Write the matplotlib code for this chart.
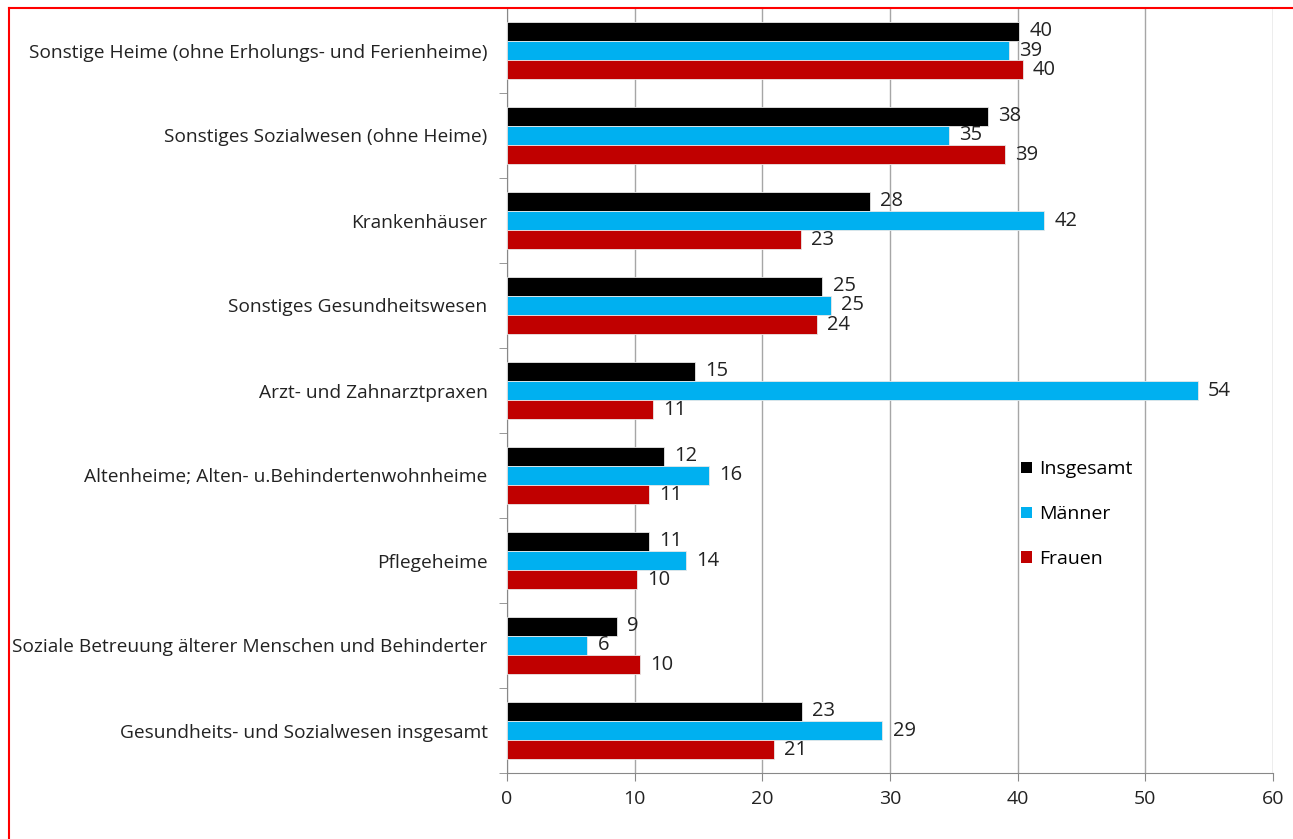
import numpy as np
import matplotlib
matplotlib.use("Agg")
import matplotlib.pyplot as plt
from matplotlib.lines import Line2D
from matplotlib.patches import Patch

# categories from top to bottom
categories = [
    "Sonstige Heime (ohne Erholungs- und Ferienheime)",
    "Sonstiges Sozialwesen (ohne Heime)",
    "Krankenhäuser",
    "Sonstiges Gesundheitswesen",
    "Arzt- und Zahnarztpraxen",
    "Altenheime; Alten- u.Behindertenwohnheime",
    "Pflegeheime",
    "Soziale Betreuung älterer Menschen und Behinderter",
    "Gesundheits- und Sozialwesen insgesamt",
]
insgesamt = [40.1, 37.7, 28.4, 24.7, 14.7, 12.3, 11.1, 8.6, 23.1]
maenner = [39.3, 34.6, 42.1, 25.4, 54.1, 15.8, 14.0, 6.3, 29.4]
frauen = [40.4, 39.0, 23.0, 24.3, 11.4, 11.1, 10.2, 10.4, 20.9]

series_names = ["Insgesamt", "Männer", "Frauen"]
colors = ["#000000", "#00B0F0", "#C00000"]

plt.rcParams['font.family'] = ['Open Sans', 'DejaVu Sans']

fig = plt.figure(figsize=(12.93, 8.39), dpi=100)
ax = fig.add_axes([507 / 1293, 66 / 839, 766 / 1293, 765 / 839])

n = len(categories)
pos = np.arange(n)[::-1]  # first category at top
bar_h = 0.224
all_series = [insgesamt, maenner, frauen]
for i, (vals, col, name) in enumerate(zip(all_series, colors, series_names)):
    y = pos + (1 - i) * bar_h
    ax.barh(y, vals, height=bar_h, color=col, edgecolor="#e8e8e8",
            linewidth=0.6, label=name, zorder=3)
    for yy, v in zip(y, vals):
        ax.text(v + 0.8, yy, str(int(v + 0.5)), va="center", ha="left",
                fontsize=14.5, color="#222222", zorder=4)

ax.set_xlim(0, 60)
ax.set_ylim(-0.5, n - 0.5)
ax.set_xticks(np.arange(0, 61, 10))
ax.set_yticks(pos)
ax.set_yticklabels(categories, fontsize=13.8, color="#222222")
ax.set_yticks(np.arange(-0.5, n, 1), minor=True)
ax.tick_params(axis="y", which="major", length=0, pad=14)
ax.tick_params(axis="y", which="minor", length=6, color="#888888")
ax.tick_params(axis="x", length=6, color="#888888", labelsize=14,
               labelcolor="#222222", pad=6)
ax.grid(axis="x", color="#a6a6a6", linewidth=1, zorder=0)
for side in ["top", "right"]:
    ax.spines[side].set_visible(False)
for side in ["left", "bottom"]:
    ax.spines[side].set_color("#888888")

handles = [Patch(facecolor=c, label=s) for c, s in zip(colors, series_names)]
ax.legend(handles=handles, loc="upper left",
          bbox_to_anchor=(1004 / 1293, 1 - 443 / 839),
          bbox_transform=fig.transFigure, frameon=False, fontsize=14,
          handlelength=0.55, handleheight=0.55, handletextpad=0.35,
          labelspacing=1.38)

# red frame lines (top and left)
fig.add_artist(Line2D([8.5 / 1293, 1], [1 - 7.5 / 839, 1 - 7.5 / 839],
                      transform=fig.transFigure, color="red", linewidth=1.5))
fig.add_artist(Line2D([8.5 / 1293, 8.5 / 1293], [0, 1 - 7.5 / 839],
                      transform=fig.transFigure, color="red", linewidth=1.5))

fig.savefig("out.png", dpi=100)
